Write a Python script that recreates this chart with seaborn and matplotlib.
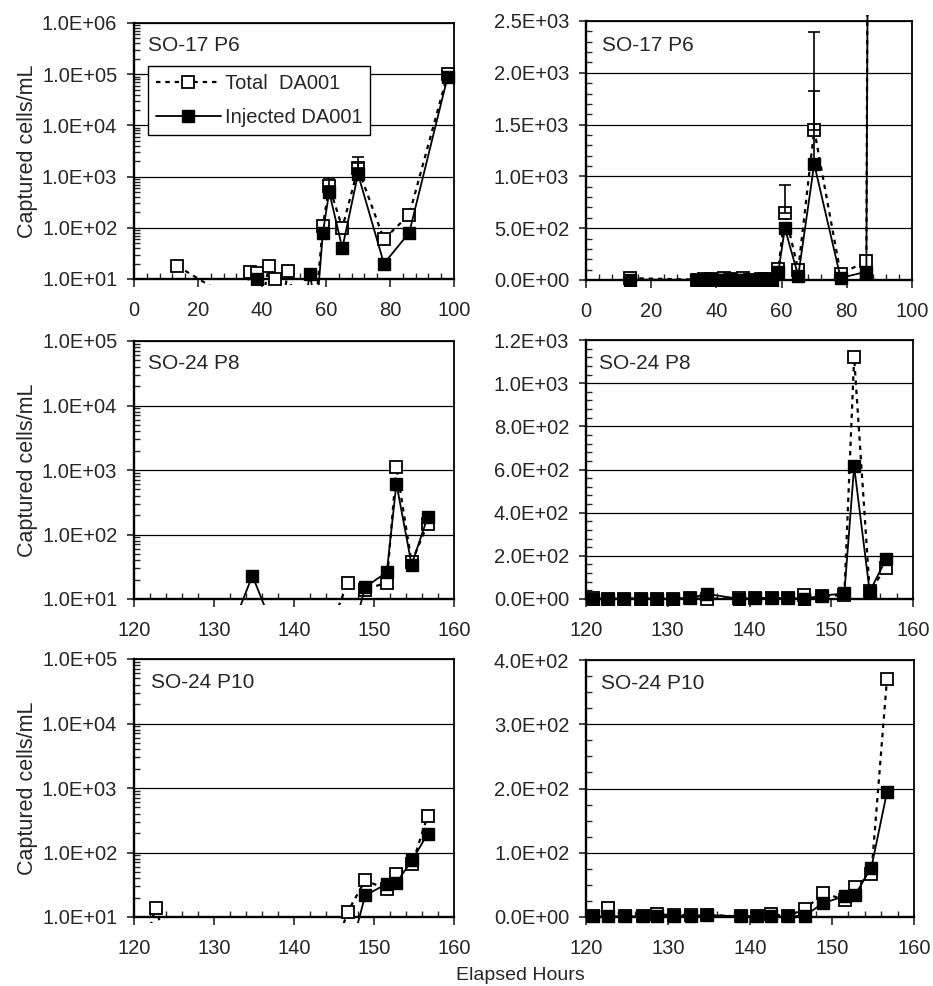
import numpy as np
import pandas as pd
import matplotlib
matplotlib.use("Agg")
import matplotlib.pyplot as plt
import seaborn as sns
from matplotlib.ticker import FuncFormatter, MultipleLocator, LogLocator, NullFormatter, FixedLocator
from matplotlib.transforms import Bbox, TransformedBbox

# ---------------- data ----------------
p6_hours = [13.5, 34.0, 36.3, 38.3, 40.2, 42.2, 44.2, 46.2, 48.2, 50.2, 52.2,
            53.6, 55.0, 57.0, 59.0, 61.0, 65.1, 70.0, 78.1, 86.0, 98.0]
p6_total = [18, 3, 14, 13, 4, 18, 10, 3, 14.5, 3, 4,
            5, 5, 4, 107, 650, 100, 1450, 60, 180, 100000]
p6_injected = [4, 2, 3, 10, 2, 3, 2, 1, 3, 2, 3,
               4, 12.7, 2, 78, 500, 40, 1120, 20, 80, 88000]
p6_err_hours = [61.0, 70.0, 70.0]
p6_err_base = [650, 1450, 1120]
p6_err_top = [920, 2390, 1820]

p8_hours = [120.8, 122.7, 124.7, 126.7, 128.7, 130.7, 132.7, 134.8, 138.7,
            140.7, 142.7, 144.7, 146.7, 148.9, 151.6, 152.8, 154.7, 156.7]
p8_total = [3, 2, 2, 2, 2, 2, 3, 1, 3, 5, 3, 4, 17.7, 14, 18, 1120, 37, 145]
p8_injected = [2, 2, 2, 2, 2, 2, 5, 23, 1.4, 5, 3, 5, 1.5, 15.3, 26, 615, 34, 185]

p10_hours = [120.8, 122.7, 124.7, 127.0, 128.7, 130.7, 132.8, 134.7, 138.9,
             140.8, 142.6, 144.6, 146.7, 148.9, 151.6, 152.8, 154.8, 156.7]
p10_total = [2, 14, 2, 2, 4, 3, 3, 3, 1, 1, 4, 2, 12, 37, 27, 47, 67, 370]
p10_injected = [1, 1, 1, 1, 1, 2, 2, 3, 1, 1, 1, 1, 2, 21.6, 32.7, 34, 77, 194]

panel_titles = ["SO-17 P6", "SO-24 P8", "SO-24 P10"]
series_labels = ["Total  DA001", "Injected DA001"]
x_label = "Elapsed Hours"
y_label = "Captured cells/mL"

# ---------------- style ----------------
sns.set_style("ticks")
plt.rcParams["font.family"] = ["Liberation Sans", "DejaVu Sans"]
FS = 14.5

fig = plt.figure(figsize=(9.33, 9.86), dpi=100)
W, H = 933.0, 986.0


def add_axes(l, t, r, b):
    return fig.add_axes([l / W, 1 - b / H, (r - l) / W, (b - t) / H])


ax_tl = add_axes(134, 23, 454, 279)
ax_tr = add_axes(586, 21, 912, 280)
ax_ml = add_axes(134, 341, 454, 599)
ax_mr = add_axes(586, 340, 913, 599)
ax_bl = add_axes(134, 659, 454, 917)
ax_br = add_axes(586, 660, 914, 917)

sci = FuncFormatter(lambda v, p: f"{v:.1E}")


def draw(ax, hours, total, injected, log, xlim, xmaj, xmin_step, ylim, ymaj,
         ymin_step, title, title_xy, err=None):
    df = pd.DataFrame({"hours": hours, "total": total, "injected": injected})
    sns.lineplot(data=df, x="hours", y="total", ax=ax, color="black",
                 estimator=None, errorbar=None, sort=False,
                 linestyle=(0, (2.0, 2.2)), linewidth=1.6, marker="s",
                 markersize=8, markerfacecolor="white", markeredgecolor="black",
                 markeredgewidth=1.3, label=series_labels[0], zorder=3)
    sns.lineplot(data=df, x="hours", y="injected", ax=ax, color="black",
                 estimator=None, errorbar=None, sort=False,
                 linestyle="-", linewidth=1.3, marker="s",
                 markersize=8, markerfacecolor="black", markeredgecolor="black",
                 markeredgewidth=1.0, label=series_labels[1], zorder=4)
    if err is not None:
        eh, eb, et = err
        ax.errorbar(eh, eb, yerr=[np.zeros(len(eb)), np.array(et) - np.array(eb)],
                    fmt="none", ecolor="black", elinewidth=1.2, capsize=4.5,
                    capthick=1.2, zorder=5)
    if ax.get_legend() is not None:
        ax.get_legend().remove()

    ax.set_xlim(*xlim)
    ax.xaxis.set_major_locator(FixedLocator(xmaj))
    ax.xaxis.set_minor_locator(MultipleLocator(xmin_step))
    if log:
        ax.set_yscale("log")
        ax.set_ylim(*ylim)
        ax.yaxis.set_major_locator(FixedLocator(ymaj))
        ax.yaxis.set_minor_locator(LogLocator(base=10, subs=np.arange(2, 10)))
    else:
        ax.set_ylim(*ylim)
        ax.yaxis.set_major_locator(FixedLocator(ymaj))
        ax.yaxis.set_minor_locator(MultipleLocator(ymin_step))
    ax.yaxis.set_major_formatter(sci)
    ax.yaxis.set_minor_formatter(NullFormatter())
    ax.xaxis.set_major_formatter(FuncFormatter(lambda v, p: f"{v:g}"))

    ax.set_xlabel("")
    ax.set_ylabel("")
    ax.set_axisbelow(True)
    ax.yaxis.grid(True, which="major", color="black", linewidth=0.9)
    ax.xaxis.grid(False)

    ax.tick_params(axis="x", which="major", direction="out", length=6,
                   width=1.2, labelsize=FS, pad=10)
    ax.tick_params(axis="y", which="major", direction="out", length=5,
                   width=1.2, labelsize=FS, pad=7)
    ax.tick_params(axis="both", which="minor", direction="in", length=4.5,
                   width=1.0)
    for s in ["top", "right"]:
        ax.spines[s].set_visible(True)
        ax.spines[s].set_linewidth(1.3)
    for s in ["left", "bottom"]:
        ax.spines[s].set_linewidth(1.7)
    for sp in ax.spines.values():
        sp.set_color("black")

    ax.text(title_xy[0], title_xy[1], title, transform=ax.transAxes,
            ha="left", va="center", fontsize=15)

    clip = TransformedBbox(Bbox([[-0.01, -0.025], [1.01, 1.025]]), ax.transAxes)
    for art in list(ax.lines) + list(ax.collections):
        art.set_clip_path(None)
        art.set_clip_box(clip)


log6 = [1e1, 1e2, 1e3, 1e4, 1e5, 1e6]
log5 = [1e1, 1e2, 1e3, 1e4, 1e5]
x_top = [0, 20, 40, 60, 80, 100]
x_low = [120, 130, 140, 150, 160]
p6_err = (p6_err_hours, p6_err_base, p6_err_top)

draw(ax_tl, p6_hours, p6_total, p6_injected, True, (0, 100), x_top, 4,
     (1e1, 1e6), log6, None, panel_titles[0], (0.044, 0.912), err=p6_err)
draw(ax_tr, p6_hours, p6_total, p6_injected, False, (0, 100), x_top, 4,
     (0, 2500), [0, 500, 1000, 1500, 2000, 2500], 100, panel_titles[0],
     (0.049, 0.907), err=p6_err)
draw(ax_ml, p8_hours, p8_total, p8_injected, True, (120, 160), x_low, 2,
     (1e1, 1e5), log5, None, panel_titles[1], (0.044, 0.912))
draw(ax_mr, p8_hours, p8_total, p8_injected, False, (120, 160), x_low, 2,
     (0, 1200), [0, 200, 400, 600, 800, 1000, 1200], 40, panel_titles[1],
     (0.040, 0.911))
draw(ax_bl, p10_hours, p10_total, p10_injected, True, (120, 160), x_low, 2,
     (1e1, 1e5), log5, None, panel_titles[2], (0.053, 0.907))
draw(ax_br, p10_hours, p10_total, p10_injected, False, (120, 160), x_low, 2,
     (0, 400), [0, 100, 200, 300, 400], 25, panel_titles[2], (0.045, 0.907))

# y labels on left column
for ax in (ax_tl, ax_ml, ax_bl):
    ax.set_ylabel(y_label, fontsize=15.5)
    ax.yaxis.set_label_coords(-0.30, 0.5)

# legend in the top-left panel
h, l = ax_tl.get_legend_handles_labels()
h, l = h[:2], l[:2]
leg = ax_tl.legend(h, l, loc="upper left", bbox_to_anchor=(0.044, 0.832),
                   frameon=True, fancybox=False, edgecolor="black",
                   framealpha=1, fontsize=FS, handlelength=3.2,
                   handletextpad=0.2, labelspacing=0.75, borderpad=0.4,
                   borderaxespad=0)
leg.get_frame().set_linewidth(1.0)

fig.text(520 / W, 1 - 976 / H, x_label, ha="center", va="center", fontsize=14)

fig.savefig("out.png", dpi=100)
